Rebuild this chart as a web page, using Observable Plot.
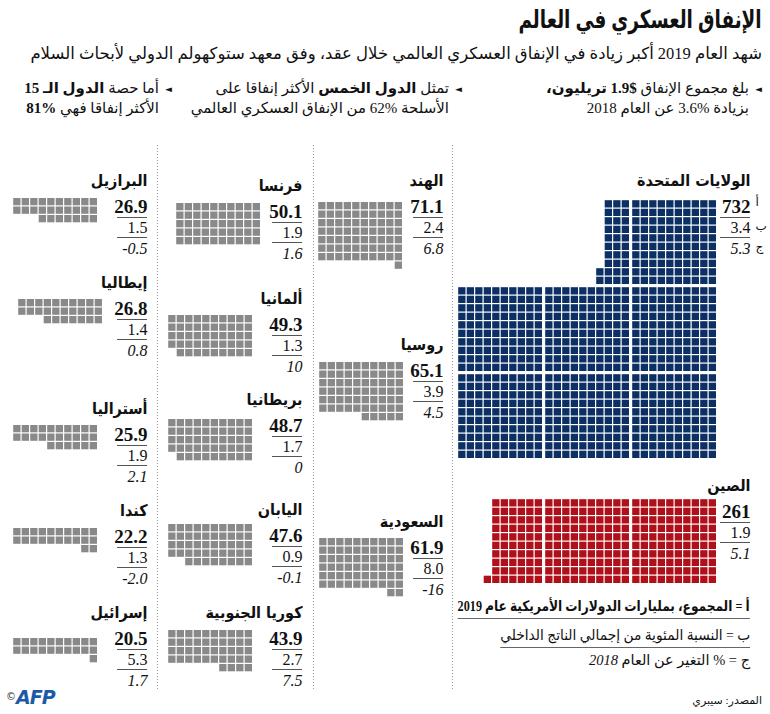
<!DOCTYPE html>
<html>
<head>
<meta charset="utf-8">
<script src="https://cdn.jsdelivr.net/npm/d3@7"></script>
<script src="https://cdn.jsdelivr.net/npm/@observablehq/plot@0.6"></script>
<style>
  body { margin: 0; background: #fff; }
  #page { position: relative; width: 770px; height: 714px; overflow: hidden;
          font-family: "Liberation Serif", "DejaVu Sans", serif; color: #111; }
  .t { position: absolute; direction: rtl; white-space: nowrap; }
  .ar { font-family: "Liberation Serif", "DejaVu Sans Condensed", "DejaVu Sans", serif; }
  .sq { transform-origin: right center; }
  .bul { font-size: 15px; line-height: 20px; padding-right: 13px; }
  .bul .tri { position: absolute; right: 0; top: 1px; font-size: 9px; font-family: "DejaVu Sans"; }
  #chart { position: absolute; left: 0; top: 140px; }
  .leg { font-size: 14.5px; line-height: 22px; }
  .leg span { display: inline-block; border-bottom: 1px solid #666; padding-bottom: 1px; }
</style>
</head>
<body>
<div id="page">
  <div class="t ar sq" style="right:8px;top:2px;font-size:25px;font-weight:bold;line-height:36px;transform:scaleX(0.82);">الإنفاق العسكري في العالم</div>
  <div class="t" style="right:8px;top:42px;font-size:16.5px;line-height:24px;font-family:'Liberation Serif','DejaVu Sans',serif;">شهد العام 2019 أكبر زيادة في الإنفاق العسكري العالمي خلال عقد، وفق معهد ستوكهولم الدولي لأبحاث السلام</div>

  <div class="t bul" style="right:8px;top:78px;"><span class="tri">◄</span>بلغ مجموع الإنفاق <b>$1.9 تريليون،</b><br>بزيادة %3.6 عن العام 2018</div>
  <div class="t bul" style="right:308px;top:78px;"><span class="tri">◄</span>تمثل <b>الدول الخمس</b> الأكثر إنفاقا على<br>الأسلحة %62 من الإنفاق العسكري العالمي</div>
  <div class="t bul" style="right:598px;top:78px;"><span class="tri">◄</span>أما حصة <b>الدول الـ 15</b><br>الأكثر إنفاقا فهي <b>%81</b></div>

  <div id="chart"></div>

  <div class="t leg sq" style="right:20px;top:595px;transform:scaleX(0.84);"><span style="font-weight:bold;">أ = المجموع، بمليارات الدولارات الأمريكية عام 2019</span></div>
  <div class="t leg sq" style="right:20px;top:624px;transform:scaleX(0.95);"><span>ب = النسبة المئوية من إجمالي الناتج الداخلي</span></div>
  <div class="t leg" style="right:20px;top:649px;">ج = % التغير عن العام <i>2018</i></div>
  <div class="t" style="right:8px;top:692px;font-size:11px;line-height:16px;">المصدر: سيبري</div>
  <div class="t" style="left:6px;top:686px;direction:ltr;font-family:'DejaVu Sans';color:#1d5aa6;">
    <span style="font-size:10px;color:#333;vertical-align:4px;">©</span><span style="font-size:19px;font-weight:bold;font-style:italic;letter-spacing:-1px;">AFP</span>
  </div>
</div>

<script>
// Military spending 2019 — 15 largest spenders (SIPRI)
const countries = ["الولايات المتحدة", "الصين", "الهند", "روسيا", "السعودية",
  "فرنسا", "ألمانيا", "بريطانيا", "اليابان", "كوريا الجنوبية",
  "البرازيل", "إيطاليا", "أستراليا", "كندا", "إسرائيل"];
// أ: total, billions of US dollars
const spending = [732, 261, 71.1, 65.1, 61.9, 50.1, 49.3, 48.7, 47.6, 43.9, 26.9, 26.8, 25.9, 22.2, 20.5];
// ب: share of GDP, %
const gdpShare = [3.4, 1.9, 2.4, 3.9, 8.0, 1.9, 1.3, 1.7, 0.9, 2.7, 1.5, 1.4, 1.9, 1.3, 5.3];
// ج: change since 2018, %
const change = [5.3, 5.1, 6.8, 4.5, -16, 1.6, 10, 0, -0.1, 7.5, -0.5, 0.8, 2.1, -2.0, 1.7];
const keyLetters = ["أ", "ب", "ج"];

// Panel placement on the page (pixels): waffle anchor and label column
const panels = [
  {kind: "blocks", wx: 716, wy: 458, lx: 750, ny: 180, fill: "#0c3064"},
  {kind: "blocks", wx: 716, wy: 583, lx: 750, ny: 485, fill: "#b0101a"},
  {kind: "rows", wx: 402, wy: 202, lx: 443, ny: 180},
  {kind: "rows", wx: 403, wy: 362, lx: 443, ny: 344},
  {kind: "rows", wx: 403, wy: 538, lx: 443, ny: 521},
  {kind: "rows", wx: 260, wy: 203, lx: 302, ny: 185},
  {kind: "rows", wx: 252, wy: 315, lx: 302, ny: 298},
  {kind: "rows", wx: 252, wy: 419, lx: 302, ny: 399},
  {kind: "rows", wx: 252, wy: 524, lx: 302, ny: 509},
  {kind: "rows", wx: 252, wy: 630, lx: 302, ny: 612},
  {kind: "rows", wx: 97, wy: 198, lx: 147, ny: 180},
  {kind: "rows", wx: 102, wy: 299, lx: 147, ny: 282},
  {kind: "rows", wx: 97, wy: 425, lx: 147, ny: 408},
  {kind: "rows", wx: 97, wy: 528, lx: 147, ny: 510},
  {kind: "rows", wx: 97, wy: 638, lx: 147, ny: 612}
];
const separators = [157, 313, 452];

const pitch = 8.5;     // one square = $1 billion
const size = 7.3;
const blockPitch = 87; // 10x10 blocks of 100

const fmtA = v => v >= 100 ? d3.format("d")(v) : d3.format(".1f")(v);
const fmtC = v => (Number.isInteger(v) && (Math.abs(v) >= 10 || v === 0)) ? String(v) : d3.format(".1f")(v).replace("−", "-");

// Squares for every country
const cells = [];
countries.forEach((name, i) => {
  const p = panels[i];
  const n = Math.round(spending[i]);
  const fill = p.fill || "#898989";
  for (let k = 0; k < n; k++) {
    let x2, y1;
    if (p.kind === "rows") {
      // rows of ten from the top; the last row sits on the right
      const r = Math.floor(k / 10), c = k % 10;
      x2 = p.wx - c * pitch;
      y1 = p.wy + r * pitch;
    } else {
      // blocks of a hundred, three per row from the bottom; each block fills by columns from the right
      const b = Math.floor(k / 100), j = k % 100;
      const br = Math.floor(b / 3), bc = b % 3;
      const col = Math.floor(j / 10), row = j % 10;
      x2 = p.wx - bc * blockPitch - col * pitch;
      y1 = p.wy - br * blockPitch - row * pitch - size;
    }
    cells.push({x1: x2 - size, x2, y1, y2: y1 + size, fill});
  }
});

const labels = countries.map((name, i) => ({
  name, x: panels[i].lx, y: panels[i].ny,
  a: fmtA(spending[i]), b: fmtC(gdpShare[i]), c: fmtC(change[i])
}));
const rules = labels.flatMap(d => [
  {x1: d.x - 30, x2: d.x, y: d.y + 37},
  {x1: d.x - 30, x2: d.x, y: d.y + 57}
]);
const keys = keyLetters.map((k, j) => ({k, x: labels[0].x + 5, y: labels[0].y + [22, 46, 67][j]}));

const serif = "Liberation Serif, serif";
const chart = Plot.plot({
  width: 770,
  height: 574,
  margin: 0,
  x: {type: "linear", domain: [0, 770], range: [0, 770], axis: null},
  y: {type: "linear", domain: [140, 714], range: [0, 574], axis: null},
  style: {background: "transparent", fontFamily: serif},
  marks: [
    Plot.ruleX(separators, {x: d => d, y1: 145, y2: 690, stroke: "#9a9a9a", strokeDasharray: "1,2", strokeWidth: 1}),
    Plot.rect(cells, {x1: "x1", x2: "x2", y1: "y1", y2: "y2", fill: "fill"}),
    Plot.text(labels, {x: "x", y: "y", text: "name", textAnchor: "end", fontSize: 16, fontWeight: "bold", fontFamily: "DejaVu Sans Condensed, DejaVu Sans", fill: "#111"}),
    Plot.text(labels, {x: "x", y: d => d.y + 26, text: "a", textAnchor: "end", fontSize: 19, fontWeight: "bold", fontFamily: serif, fill: "#111"}),
    Plot.text(labels, {x: "x", y: d => d.y + 47, text: "b", textAnchor: "end", fontSize: 16, fontFamily: serif, fill: "#111"}),
    Plot.text(labels, {x: "x", y: d => d.y + 68, text: "c", textAnchor: "end", fontSize: 16, fontStyle: "italic", fontFamily: serif, fill: "#111"}),
    Plot.ruleY(rules, {x1: "x1", x2: "x2", y: "y", stroke: "#555", strokeWidth: 1}),
    Plot.text(keys, {x: "x", y: "y", text: "k", textAnchor: "start", fontSize: 12, fontFamily: "DejaVu Sans", fill: "#111"})
  ]
});
document.getElementById("chart").appendChild(chart);
</script>
</body>
</html>
